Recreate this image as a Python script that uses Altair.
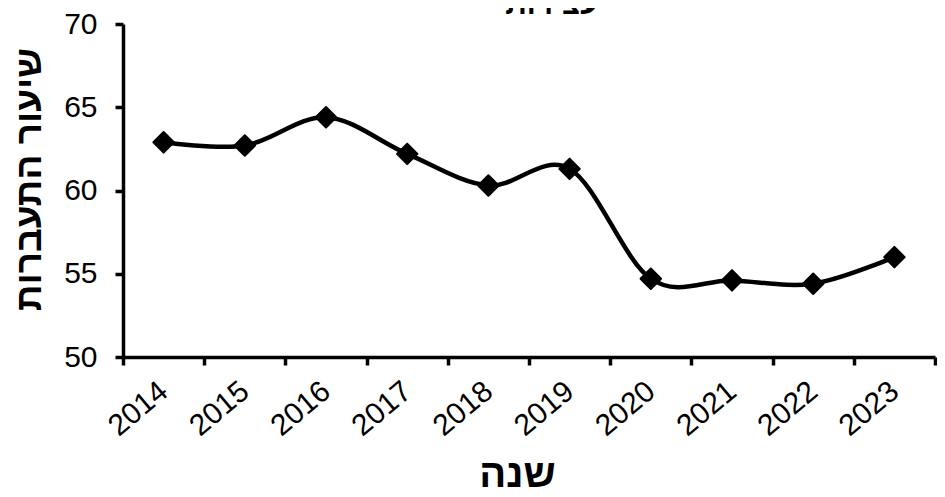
import altair as alt
import pandas as pd

years = ["2014", "2015", "2016", "2017", "2018", "2019", "2020", "2021", "2022", "2023"]
rates = [62.9, 62.7, 64.4, 62.2, 60.3, 61.3, 54.7, 54.6, 54.4, 56.0]
y_ticks = [50, 55, 60, 65, 70]

df = pd.DataFrame({"year": years, "rate": rates})

FONT = "Liberation Sans"

x = alt.X(
    "year:O",
    bandPosition=0.5,
    sort=years,
    scale=alt.Scale(type="band", paddingInner=0, paddingOuter=0),
    axis=alt.Axis(
        title="שנה",
        labelAngle=-40,
        labelAlign="right",
        labelBaseline="middle",
        tickBand="extent",
        labelPadding=22,
        titleFontSize=40,
        titlePadding=13,
        titleX=394,
    ),
)
y = alt.Y(
    "rate:Q",
    scale=alt.Scale(domain=[50, 70], nice=False, zero=False),
    axis=alt.Axis(
        values=y_ticks,
        grid=False,
        title="שיעור התעברות",
        titleFontSize=37,
        labelPadding=18,
        titlePadding=15,
        titleY=155,
    ),
)

base = alt.Chart(df).encode(x=x, y=y)
line = base.mark_line(interpolate="cardinal", color="black", strokeWidth=4.5)
pts = base.mark_point(
    shape="diamond", filled=True, size=420, color="black", opacity=1,
    stroke="black", strokeWidth=2, strokeJoin="round",
)

chart = (
    (line + pts)
    .properties(
        width=812,
        height=333,
        autosize=alt.AutoSizeParams(type="none"),
        padding={"left": 115, "top": 16, "right": 2, "bottom": 140},
        title=alt.TitleParams(
            text="עצירות", font=FONT, fontSize=30, fontWeight="bold",
            color="black", anchor="middle", dx=23, offset=0, dy=11,
        ),
    )
    .configure_view(stroke=None)
    .configure_axis(
        domainColor="black", domainWidth=3.5, tickColor="black", tickWidth=3.5,
        tickSize=8, labelFont=FONT, labelFontSize=30, labelColor="black",
        titleFont=FONT, titleFontWeight="bold", titleColor="black",
    )
)

chart.save("out.html", embed_options={"renderer": "svg", "actions": False})
